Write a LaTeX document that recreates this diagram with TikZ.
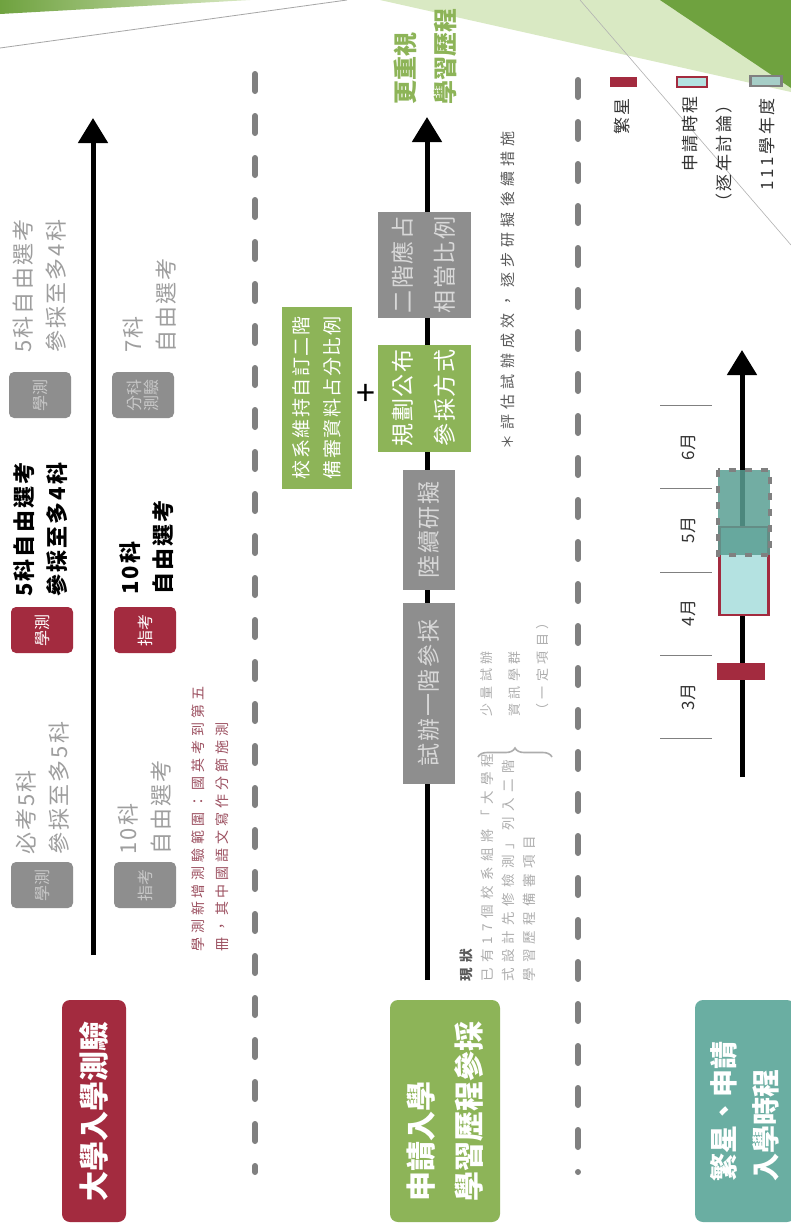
\documentclass[tikz,border=0pt]{standalone}
\usepackage{fontspec}
\setmainfont{Noto Sans CJK TC}
\usetikzlibrary{arrows.meta,decorations.pathreplacing}

\definecolor{cred}{HTML}{A32B3F}
\definecolor{cgreen}{HTML}{8DB458}
\definecolor{cteal}{HTML}{6AAEA2}
\definecolor{cteal2}{HTML}{5A9F93}
\definecolor{ccyan}{HTML}{B4E2E1}
\definecolor{tagg}{HTML}{8E8E8E}
\definecolor{tagtxt}{HTML}{C8C8C8}
\definecolor{oldtxt}{HTML}{9E9E9E}
\definecolor{notered}{HTML}{9C5060}
\definecolor{dgreen}{HTML}{6FA23F}
\definecolor{lgreen}{HTML}{D9E9C3}
\definecolor{lgray}{HTML}{ADADAD}
\definecolor{midgray}{HTML}{5A5A5A}
\definecolor{dtxt}{HTML}{333333}

\tikzset{
  vtxt/.style={rotate=90, inner sep=0pt, align=left, anchor=west},
  tagbox/.style={rotate=90, rounded corners=5pt, minimum width=46pt, minimum height=62pt, inner sep=1pt, align=center, font=\fontsize{16}{17}\selectfont},
  oldtag/.style={tagbox, fill=tagg, text=tagtxt},
  newtag/.style={tagbox, fill=cred, text=white},
  headbox/.style={rotate=90, rounded corners=8pt, minimum width=222pt, text=white, align=left, font=\bfseries\fontsize{30}{48}\selectfont},
  stagebox/.style={rotate=90, inner sep=2pt, align=center, font=\fontsize{23}{42}\selectfont\addfontfeatures{LetterSpace=8}},
  timeline/.style={line width=5pt, -{Triangle[width=29pt,length=25pt]}},
  sepline/.style={draw=gray, line width=6pt, line cap=round, dash pattern=on 17pt off 25pt},
  bigtxt/.style={font=\fontsize{22}{33}\selectfont\addfontfeatures{LetterSpace=10}},
  boldtxt/.style={font=\bfseries\fontsize{22}{33}\selectfont\addfontfeatures{LetterSpace=10}},
  legtxt/.style={rotate=90, anchor=east, inner sep=0pt, align=right, text=dtxt, font=\fontsize{17}{34}\selectfont\addfontfeatures{LetterSpace=15}}
}

\begin{document}
\begin{tikzpicture}[x=1pt,y=-1pt]
\useasboundingbox (0,0) rectangle (791,1224);
\fill[white] (0,0) rectangle (791,1224);
\shade[left color=dgreen, right color=lgreen] (0,0) -- (250,0) -- (0,14) -- cycle;
\fill[lgreen] (380,0) -- (791,0) -- (791,92) -- cycle;
\fill[dgreen] (660,0) -- (791,0) -- (791,88) -- cycle;
\draw[gray!70, line width=0.8pt] (0,48) -- (347,0);
\draw[gray!60, line width=0.6pt] (580,0) -- (791,245);

\coordinate (s1a) at (255,74);
\coordinate (s1b) at (255,1172);
\coordinate (s2a) at (578,80);
\coordinate (s2b) at (578,1172);
\draw[sepline] (s1a) -- (s1b);
\draw[sepline] (s2a) -- (s2b);

% 大學入學測驗
\node[headbox, fill=cred, minimum height=64pt, align=center] (head1) at (94,1111) {大學入學測驗};
\coordinate (a1s) at (93,955);
\coordinate (a1e) at (93,118);
\draw[timeline] (a1s) -- (a1e);
\foreach \nm/\x/\y/\st/\txt in {xc/42/885/oldtag/學測, xn/42/630/newtag/學測, xf/40/395/oldtag/學測,
  zc/145/885/oldtag/指考, zn/145/630/newtag/指考, zf/143/395/oldtag/{分科\\測驗}}
  \node[\st] (\nm) at (\x,\y) {\txt};
\node[vtxt, bigtxt, text=oldtxt] (xct) at (43,855) {必考5科\\參採至多5科};
\node[vtxt, boldtxt] (xnt) at (41,597) {5科自由選考\\參採至多4科};
\node[vtxt, bigtxt, text=oldtxt] (xft) at (40,353) {5科自由選考\\參採至多4科};
\node[vtxt, bigtxt, text=oldtxt] (zct) at (145,855) {10科\\自由選考};
\node[vtxt, boldtxt] (znt) at (147,595) {10科\\自由選考};
\node[vtxt, bigtxt, text=oldtxt] (zft) at (150,353) {7科\\自由選考};
\node[vtxt, text=notered, font=\fontsize{14}{24}\selectfont\addfontfeatures{LetterSpace=28}] (xnote) at (210,952)
  {學測新增測驗範圍：國英考到第五\\冊，其中國語文寫作分節施測};

% 申請入學
\node[headbox, fill=cgreen, minimum height=110pt] (head2) at (445,1111) {申請入學\\學習歷程參採};
\coordinate (a2s) at (427,980);
\coordinate (a2e) at (427,117);
\draw[timeline] (a2s) -- (a2e);
\node[stagebox, fill=tagg, text=tagtxt!70!white, minimum width=181pt, minimum height=52pt] (try1) at (429,693) {試辦一階參採};
\node[stagebox, fill=tagg, text=tagtxt!70!white, minimum width=120pt, minimum height=52pt] (study) at (429,530) {陸續研擬};
\node[stagebox, fill=cgreen, text=white, minimum width=107pt, minimum height=93pt] (pub) at (424,398) {規劃公布\\參採方式};
\node[stagebox, fill=tagg, text=tagtxt!70!white, minimum width=106pt, minimum height=93pt] (two) at (424,265) {二階應占\\相當比例};
\node[stagebox, fill=cgreen, text=white, minimum width=182pt, minimum height=70pt, font=\fontsize{19}{31}\selectfont\addfontfeatures{LetterSpace=8}] (keep) at (317,398)
  {校系維持自訂二階\\備審資料占分比例};
\node[font=\fontsize{34}{34}\selectfont] (plus) at (366,395) {+};
\node[vtxt, text=cgreen, font=\bfseries\fontsize{24}{40}\selectfont] (more) at (425,105) {更重視\\學習歷程};
\node[vtxt, text=midgray, font=\fontsize{15}{18}\selectfont\addfontfeatures{LetterSpace=35}] (eval) at (508,450) {＊評估試辦成效，逐步研擬後續措施};
\node[vtxt, text=lgray, font=\fontsize{13}{28}\selectfont\addfontfeatures{LetterSpace=35}] (few) at (515,717) {少量試辦\\資訊學群\\（一定項目）};
\draw[lgray, line width=1.6pt, decorate, decoration={brace, amplitude=9pt}] (478,757) -- (552,757);
\node[vtxt, text=lgray, font=\fontsize{13.5}{21}\selectfont\addfontfeatures{LetterSpace=40}] (now) at (498,982)
  {{\color{midgray}\bfseries 現狀}\\已有17個校系組將「大學程\\式設計先修檢測」列入二階\\學習歷程備審項目};

% 繁星、申請
\node[headbox, fill=cteal, minimum height=100pt, font=\bfseries\fontsize{28}{42}\selectfont] (head3) at (745,1111) {繁星、申請\\入學時程};
\coordinate (a3s) at (742,777);
\coordinate (a3e) at (742,350);
\draw[timeline] (a3s) -- (a3e);
\foreach \y in {405,488,572,655,738}
  \draw[gray, line width=1pt] (660,\y) -- (712,\y);
\foreach \m/\y in {6/447,5/530,4/613,3/697}
  \node[rotate=90, text=dtxt, font=\fontsize{17}{17}\selectfont] (mon\m) at (688,\y) {\m 月};
\node[rotate=90, fill=cred, minimum width=17pt, minimum height=48pt, inner sep=0pt] (star) at (741,671.5) {};
\node[rotate=90, fill=ccyan, draw=cred, line width=2.5pt, minimum width=88pt, minimum height=49pt, inner sep=0pt] (apply) at (744,571) {};
\node[rotate=90, fill=cteal2, fill opacity=0.85, draw=gray, line width=3.5pt, dash pattern=on 7pt off 9pt, minimum width=85pt, minimum height=52pt, inner sep=0pt] (y111) at (744,512.5) {};

\node[fill=cred, minimum width=27pt, minimum height=10pt, inner sep=0pt] (lg1) at (623,82) {};
\node[fill=ccyan, draw=cred, line width=2.5pt, minimum width=30pt, minimum height=10pt, inner sep=0pt] (lg2) at (692,82) {};
\node[fill=cteal!60, draw=gray, line width=2.5pt, minimum width=31pt, minimum height=10pt, inner sep=0pt] (lg3) at (766,81) {};
\node[legtxt] (lt1) at (622,98) {繁星};
\node[legtxt] (lt2) at (707,96) {申請時程\\（逐年討論）};
\node[legtxt] (lt3) at (767,98) {111學年度};
\end{tikzpicture}
\end{document}
